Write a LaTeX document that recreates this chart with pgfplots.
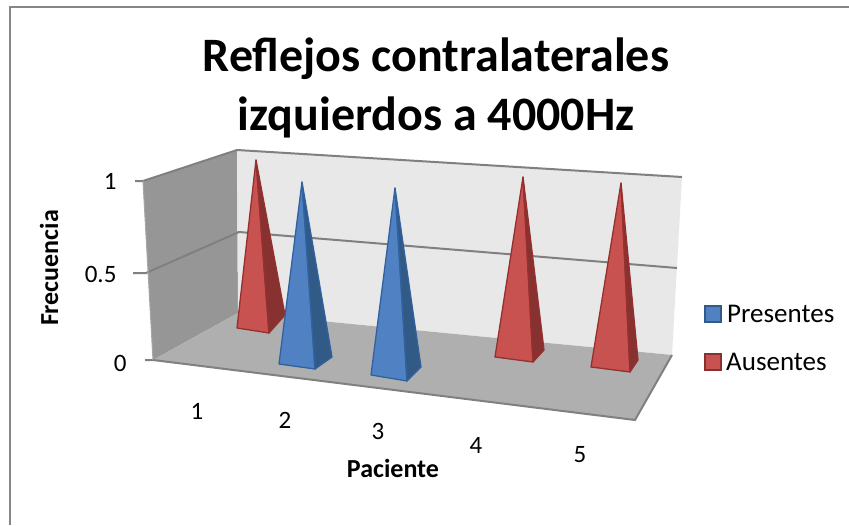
\documentclass[border=0pt]{standalone}
\usepackage{pgfplots}
\pgfplotsset{compat=1.18}
\usepackage{fontspec}
\setmainfont{Carlito}
\definecolor{wallL}{RGB}{150,150,150}
\definecolor{wallB}{RGB}{232,232,232}
\definecolor{floorc}{RGB}{175,175,175}
\definecolor{gridc}{RGB}{128,128,128}
\definecolor{frame}{RGB}{134,134,134}
\definecolor{redF}{RGB}{200,82,80}
\definecolor{redD}{RGB}{135,50,48}
\definecolor{redE}{RGB}{150,48,46}
\definecolor{bluF}{RGB}{80,130,195}
\definecolor{bluD}{RGB}{50,90,135}
\definecolor{bluE}{RGB}{48,98,160}
\newcommand{\poly}[2]{\addplot[fill=#1,draw=none,forget plot] coordinates {#2} -- cycle;}
\newcommand{\lin}[3]{\addplot[draw=#1,line width=#2,forget plot] coordinates {#3};}
% edge colour, light face, dark face, apex, left, front, right
\newcommand{\pyramid}[7]{%
  \addplot[fill=#2,draw=#1,line width=1.3pt,line join=round,forget plot] coordinates {#4 #5 #6} -- cycle;
  \addplot[fill=#3,draw=#1,line width=1.3pt,line join=round,forget plot] coordinates {#4 #6 #7} -- cycle;
}
\begin{document}
\begin{tikzpicture}
\begin{axis}[
  scale only axis, width=849pt, height=525pt,
  xmin=0, xmax=849, ymin=0, ymax=525, y dir=reverse,
  hide axis, clip=true]
\poly{white}{(0,0)(849,0)(849,525)(0,525)}
\lin{frame}{2pt}{(849,7)(10,7)(10,525)}
% walls and floor
\poly{wallL}{(143,181)(237,150)(238,313)(153,360)}
\poly{wallB}{(237,150)(682,177)(672,355)(238,313)}
\poly{floorc}{(238,313)(672,355)(635,420)(153,360)}
% grid lines
\lin{gridc}{2pt}{(135,181)(143,181)(237,150)(682,177)}
\lin{gridc}{2pt}{(133,273)(146,273)(239,232)(677,268)}
\lin{gridc}{2pt}{(145,360)(153,360)(635,420)(672,355)}
\lin{gridc!70!white}{1pt}{(143,181)(153,360)}
% pyramids: apex, left, front, right
\pyramid{redE}{redF}{redD}{(256,160)}{(237,328)}{(269,333)}{(285,315)}
\pyramid{bluE}{bluF}{bluD}{(302,182)}{(279,364)}{(315,369)}{(332,357)}
\pyramid{bluE}{bluF}{bluD}{(395,188)}{(371,375)}{(407,381)}{(421,367)}
\pyramid{redE}{redF}{redD}{(523,177)}{(495,357)}{(533,362)}{(544,350)}
\pyramid{redE}{redF}{redD}{(621,183)}{(591,367)}{(630,372)}{(638,360)}
% legend keys
\addplot[fill=bluF,draw=bluD,line width=2pt,forget plot] coordinates {(705,306)(721,306)(721,322)(705,322)} -- cycle;
\addplot[fill=redF,draw=redD,line width=2pt,forget plot] coordinates {(705,354)(721,354)(721,370)(705,370)} -- cycle;
% text
\node[font=\fontsize{48}{48}\selectfont\bfseries,anchor=center] at (axis cs:436,59) {Reflejos contralaterales};
\node[font=\fontsize{48}{48}\selectfont\bfseries,anchor=center] at (axis cs:436,117) {izquierdos a 4000Hz};
\node[font=\fontsize{25}{25}\selectfont,anchor=east] at (axis cs:120,181) {1};
\node[font=\fontsize{25}{25}\selectfont,anchor=east] at (axis cs:120,274) {0.5};
\node[font=\fontsize{25}{25}\selectfont,anchor=east] at (axis cs:130,363) {0};
\node[font=\fontsize{25}{25}\selectfont] at (axis cs:197,411) {1};
\node[font=\fontsize{25}{25}\selectfont] at (axis cs:285,420) {2};
\node[font=\fontsize{25}{25}\selectfont] at (axis cs:378,431) {3};
\node[font=\fontsize{25}{25}\selectfont] at (axis cs:476,445) {4};
\node[font=\fontsize{25}{25}\selectfont] at (axis cs:580,455) {5};
\node[font=\fontsize{26}{26}\selectfont\bfseries,rotate=90] at (axis cs:49,268) {Frecuencia};
\node[font=\fontsize{26}{26}\selectfont\bfseries] at (axis cs:393,468) {Paciente};
\node[font=\fontsize{27}{27}\selectfont,anchor=west,inner sep=0pt] at (axis cs:727,314) {Presentes};
\node[font=\fontsize{27}{27}\selectfont,anchor=west,inner sep=0pt] at (axis cs:726,362) {Ausentes};
\end{axis}
\end{tikzpicture}
\end{document}
